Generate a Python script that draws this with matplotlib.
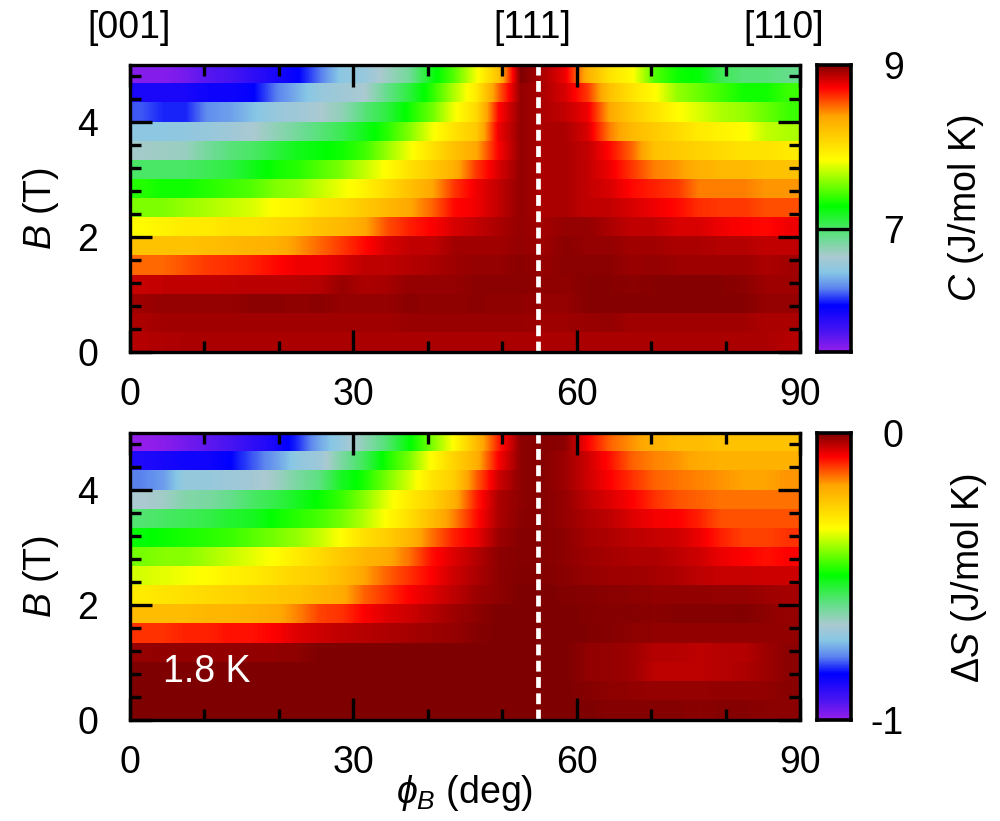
import numpy as np
import matplotlib
matplotlib.use('Agg')
import matplotlib.pyplot as plt
from matplotlib.colors import LinearSegmentedColormap

matplotlib.rcParams.update({'font.family': 'Liberation Sans', 'font.size': 27,
                            'mathtext.fontset': 'custom',
                            'mathtext.rm': 'Liberation Sans',
                            'mathtext.it': 'Liberation Sans:italic'})

# rows run from the top of the panel (5 T) to the bottom (0 T), columns 0-90 deg in 3 deg cells
C_rows = [
    [5.55,5.55,5.60,5.70,5.75,5.85,5.95,6.05,6.25,6.50,6.55,6.70,6.85,7.20,7.45,7.80,8.20,9.00,8.90,8.75,8.30,8.00,7.85,7.45,7.30,7.25,7.05,6.95,6.95,6.90],
    [5.95,5.95,5.95,6.00,6.00,6.05,6.25,6.40,6.55,6.60,6.65,6.90,7.10,7.35,7.65,7.95,8.50,8.95,8.90,8.80,8.60,8.20,8.00,7.85,7.60,7.50,7.40,7.30,7.30,7.40],
    [6.20,6.12,6.12,6.30,6.35,6.45,6.55,6.60,6.65,6.75,6.95,7.10,7.30,7.50,7.80,8.05,8.70,8.95,8.90,8.85,8.75,8.35,8.15,8.00,7.85,7.75,7.65,7.60,7.50,7.40],
    [6.50,6.50,6.52,6.55,6.60,6.65,6.75,6.85,6.95,7.05,7.20,7.35,7.55,7.80,8.00,8.15,8.75,8.95,8.90,8.90,8.80,8.45,8.25,8.15,8.05,7.95,7.90,7.85,7.70,7.65],
    [6.68,6.70,6.72,6.85,6.95,7.00,7.10,7.20,7.25,7.30,7.40,7.60,7.80,8.00,8.20,8.35,8.72,8.95,8.90,8.90,8.85,8.70,8.50,8.20,8.15,8.10,8.05,8.00,8.00,7.95],
    [7.00,7.00,7.00,7.05,7.10,7.20,7.30,7.35,7.45,7.55,7.70,7.85,8.00,8.15,8.30,8.60,8.80,8.95,8.90,8.90,8.85,8.75,8.60,8.45,8.40,8.30,8.25,8.25,8.20,8.20],
    [7.35,7.30,7.30,7.35,7.40,7.45,7.55,7.60,7.70,7.80,7.90,8.05,8.20,8.35,8.60,8.75,8.85,8.95,8.90,8.90,8.85,8.80,8.70,8.65,8.60,8.45,8.45,8.45,8.40,8.40],
    [7.55,7.55,7.60,7.65,7.70,7.75,7.85,7.90,8.00,8.05,8.15,8.25,8.35,8.50,8.70,8.75,8.85,8.95,8.90,8.90,8.85,8.85,8.80,8.75,8.70,8.62,8.60,8.60,8.55,8.55],
    [7.85,7.90,7.95,7.95,8.00,8.00,8.05,8.10,8.20,8.25,8.35,8.55,8.65,8.72,8.80,8.85,8.90,8.95,8.92,8.95,8.95,8.90,8.85,8.85,8.80,8.80,8.75,8.72,8.70,8.75],
    [8.20,8.20,8.20,8.22,8.25,8.28,8.30,8.40,8.50,8.60,8.70,8.80,8.85,8.85,8.92,8.92,8.92,8.95,8.93,8.97,8.95,8.95,8.92,8.92,8.90,8.90,8.88,8.88,8.85,8.85],
    [8.50,8.50,8.55,8.60,8.62,8.65,8.70,8.75,8.75,8.80,8.86,8.86,8.88,8.90,8.93,8.95,8.95,8.97,8.95,8.97,8.97,8.97,8.94,8.95,8.93,8.93,8.93,8.93,8.90,8.92],
    [8.84,8.85,8.85,8.85,8.86,8.87,8.87,8.87,8.88,8.94,8.90,8.91,8.95,8.95,8.95,8.97,8.97,8.97,8.96,8.96,8.98,8.98,8.97,8.98,8.98,8.98,8.98,8.97,8.93,8.93],
    [8.93,8.95,8.95,8.95,8.95,8.97,8.97,8.96,8.97,8.95,8.95,8.95,8.97,8.96,8.96,8.97,8.96,8.96,8.95,8.95,8.98,8.98,8.98,8.98,8.98,8.98,8.98,8.98,8.95,8.95],
    [8.90,8.92,8.92,8.92,8.92,8.92,8.92,8.92,8.92,8.92,8.92,8.92,8.94,8.94,8.94,8.94,8.94,8.94,8.93,8.93,8.94,8.95,8.92,8.92,8.92,8.92,8.92,8.92,8.90,8.90],
    [8.88,8.89,8.90,8.90,8.90,8.90,8.90,8.90,8.90,8.90,8.90,8.90,8.90,8.90,8.90,8.90,8.90,8.90,8.90,8.90,8.90,8.90,8.90,8.90,8.90,8.90,8.90,8.90,8.90,8.88],
]
dS_rows = [
    [-1.00,-.99,-.97,-.95,-.93,-.90,-.87,-.82,-.75,-.70,-.64,-.58,-.50,-.42,-.33,-.22,-.10,-.01,-.005,-.01,-.08,-.14,-.17,-.20,-.22,-.22,-.23,-.23,-.23,-.23],
    [-.88,-.87,-.86,-.86,-.84,-.80,-.76,-.71,-.69,-.62,-.56,-.48,-.42,-.33,-.26,-.20,-.08,-.01,-.005,-.02,-.05,-.09,-.14,-.16,-.17,-.19,-.20,-.20,-.20,-.20],
    [-.78,-.76,-.70,-.70,-.69,-.68,-.66,-.62,-.59,-.52,-.48,-.42,-.36,-.29,-.25,-.14,-.05,-.01,-.005,-.02,-.05,-.08,-.11,-.14,-.15,-.16,-.17,-.18,-.18,-.17],
    [-.67,-.66,-.63,-.62,-.60,-.57,-.55,-.52,-.49,-.46,-.41,-.35,-.30,-.26,-.20,-.10,-.03,-.01,-.005,-.015,-.04,-.06,-.08,-.11,-.13,-.14,-.15,-.15,-.15,-.15],
    [-.58,-.57,-.56,-.55,-.53,-.52,-.49,-.47,-.45,-.42,-.38,-.33,-.28,-.22,-.16,-.09,-.03,-.008,-.005,-.015,-.03,-.04,-.06,-.075,-.08,-.10,-.13,-.13,-.13,-.13],
    [-.50,-.49,-.48,-.47,-.46,-.44,-.42,-.40,-.37,-.33,-.28,-.25,-.21,-.15,-.10,-.07,-.02,-.005,-.005,-.01,-.025,-.03,-.04,-.045,-.05,-.07,-.10,-.12,-.12,-.11],
    [-.42,-.41,-.41,-.39,-.37,-.35,-.33,-.30,-.27,-.24,-.21,-.19,-.15,-.09,-.06,-.035,-.01,-.005,-.005,-.01,-.02,-.025,-.03,-.03,-.04,-.05,-.07,-.08,-.09,-.08],
    [-.36,-.35,-.34,-.33,-.31,-.30,-.28,-.26,-.25,-.22,-.18,-.14,-.11,-.08,-.05,-.03,-.01,-.003,-.003,-.008,-.015,-.02,-.02,-.025,-.03,-.04,-.045,-.045,-.05,-.05],
    [-.30,-.29,-.28,-.27,-.26,-.25,-.24,-.23,-.21,-.19,-.14,-.11,-.08,-.06,-.04,-.02,-.01,0,0,-.003,-.005,-.008,-.01,-.012,-.012,-.012,-.015,-.015,-.02,-.025],
    [-.22,-.22,-.22,-.21,-.21,-.20,-.19,-.16,-.12,-.11,-.08,-.06,-.05,-.035,-.02,-.01,0,0,0,0,-.003,-.005,-.005,-.008,-.005,-.005,-.005,-.003,-.01,-.015],
    [-.11,-.11,-.10,-.10,-.09,-.09,-.08,-.06,-.05,-.04,-.035,-.03,-.025,-.02,-.015,-.005,0,0,0,0,-.002,-.005,-.01,-.012,-.012,-.012,-.012,-.012,-.012,-.012],
    [-.015,-.012,-.012,-.012,-.012,-.012,-.012,-.01,0,0,0,0,0,0,0,0,0,0,0,0,-.012,-.015,-.02,-.035,-.035,-.04,-.035,-.035,-.02,-.008],
    [0,0,0,0,0,0,0,0,0,0,0,0,0,0,0,0,0,0,0,0,-.012,-.015,-.02,-.04,-.04,-.04,-.035,-.03,-.02,-.008],
    [0,0,0,0,0,0,0,0,0,0,0,0,0,0,0,0,0,0,0,0,-.005,-.01,-.012,-.015,-.015,-.015,-.012,-.012,-.012,-.006],
    [0,0,0,0,0,0,0,0,0,0,0,0,0,0,0,0,0,0,0,0,0,-.005,-.005,-.005,-.005,-.008,-.005,-.005,-.008,-.008],
]
phi_ticks = [0, 30, 60, 90]
phi_minor = [10, 20, 40, 50, 70, 80]
b_ticks = [0, 2, 4]
b_minor = [0.4, 0.8, 1.2, 1.6, 2.4, 2.8, 3.2, 3.6, 4.4, 4.8]
magic_angle = 54.8
dirs = ['[001]', '[111]', '[110]']

cmap = LinearSegmentedColormap.from_list('cb', [
    (0.0, (0.58, 0.12, 0.92)), (0.07, (0.28, 0.08, 0.95)), (0.16, (0, 0, 1)),
    (0.22, (0.36, 0.52, 0.94)), (0.275, (0.53, 0.78, 0.9)), (0.33, (0.67, 0.79, 0.82)),
    (0.40, (0.4, 0.87, 0.55)), (0.505, (0, 1, 0)), (0.667, (1, 1, 0)),
    (0.82, (1, 0.65, 0)), (0.92, (1, 0, 0)), (1.0, (0.5, 0, 0))], N=512)


def heat(ax, rows, vmin, vmax):
    n = len(rows)
    for i, row in enumerate(rows):
        ax.imshow([row], extent=[0, 90, 5-(i+1)*5/n, 5-i*5/n], aspect='auto',
                  cmap=cmap, vmin=vmin, vmax=vmax, interpolation='bilinear',
                  interpolation_stage='data')
    ax.plot([magic_angle, magic_angle], [0, 5], color='white', lw=3.4, dashes=(2.3, 1.15), zorder=3)
    ax.set_xlim(0, 90)
    ax.set_ylim(0, 5)
    ax.set_xticks(phi_ticks)
    ax.set_xticks(phi_minor, minor=True)
    ax.set_yticks(b_ticks)
    ax.set_yticks(b_minor, minor=True)
    ax.tick_params(which='major', direction='in', top=True, right=True, length=16, width=2.4)
    ax.tick_params(which='minor', direction='in', top=True, right=True, length=8, width=2.4)
    ax.tick_params(axis='x', which='major', pad=18)
    ax.tick_params(axis='y', which='major', pad=23)
    for s in ax.spines.values():
        s.set_linewidth(2.4)
        s.set_zorder(5)
    ax.set_ylabel(r'$B$ (T)', labelpad=12)


def cbar(ax, vmin, vmax, ticks, labels):
    ax.imshow(np.linspace(vmax, vmin, 300)[:, None], extent=[0, 1, vmin, vmax], aspect='auto',
              cmap=cmap, vmin=vmin, vmax=vmax)
    ax.set_xticks([])
    ax.yaxis.tick_right()
    ax.set_yticks(ticks)
    ax.set_yticklabels(labels, ha='right')
    ax.tick_params(axis='y', length=0, pad=38)
    for s in ax.spines.values():
        s.set_linewidth(2.6)


fig = plt.figure(figsize=(10, 8.21), dpi=100)
W, H = 1000, 821
ax1 = fig.add_axes([130/W, 1-352/H, 670/W, 287/H])
ax2 = fig.add_axes([130/W, 1-720/H, 670/W, 287/H])
cb1 = fig.add_axes([817/W, 1-352/H, 34/W, 287/H])
cb2 = fig.add_axes([817/W, 1-720/H, 34/W, 287/H])

heat(ax1, C_rows, 5.5, 9)
heat(ax2, dS_rows, -1, 0)
cbar(cb1, 5.5, 9, [7, 9], ['7', '9'])
cbar(cb2, -1, 0, [-1, 0], ['-1', '0'])
cb1.axhline(7, color='black', lw=2.4)

for lab, x in zip(dirs, [129, 532, 784]):
    fig.text(x/W, 1-28/H, lab, ha='center', va='center')
ax2.set_xlabel(r'$\phi_B$ (deg)', labelpad=-6)
ax2.text(4.4, 0.84, '1.8 K', color='white', va='center', fontsize=27)
fig.text(966/W, 1-208/H, r'$C$ (J/mol K)', rotation=90, ha='center', va='center')
fig.text(969/W, 1-578/H, r'$\Delta S$ (J/mol K)', rotation=90, ha='center', va='center')

plt.savefig('out.png', dpi=100)
